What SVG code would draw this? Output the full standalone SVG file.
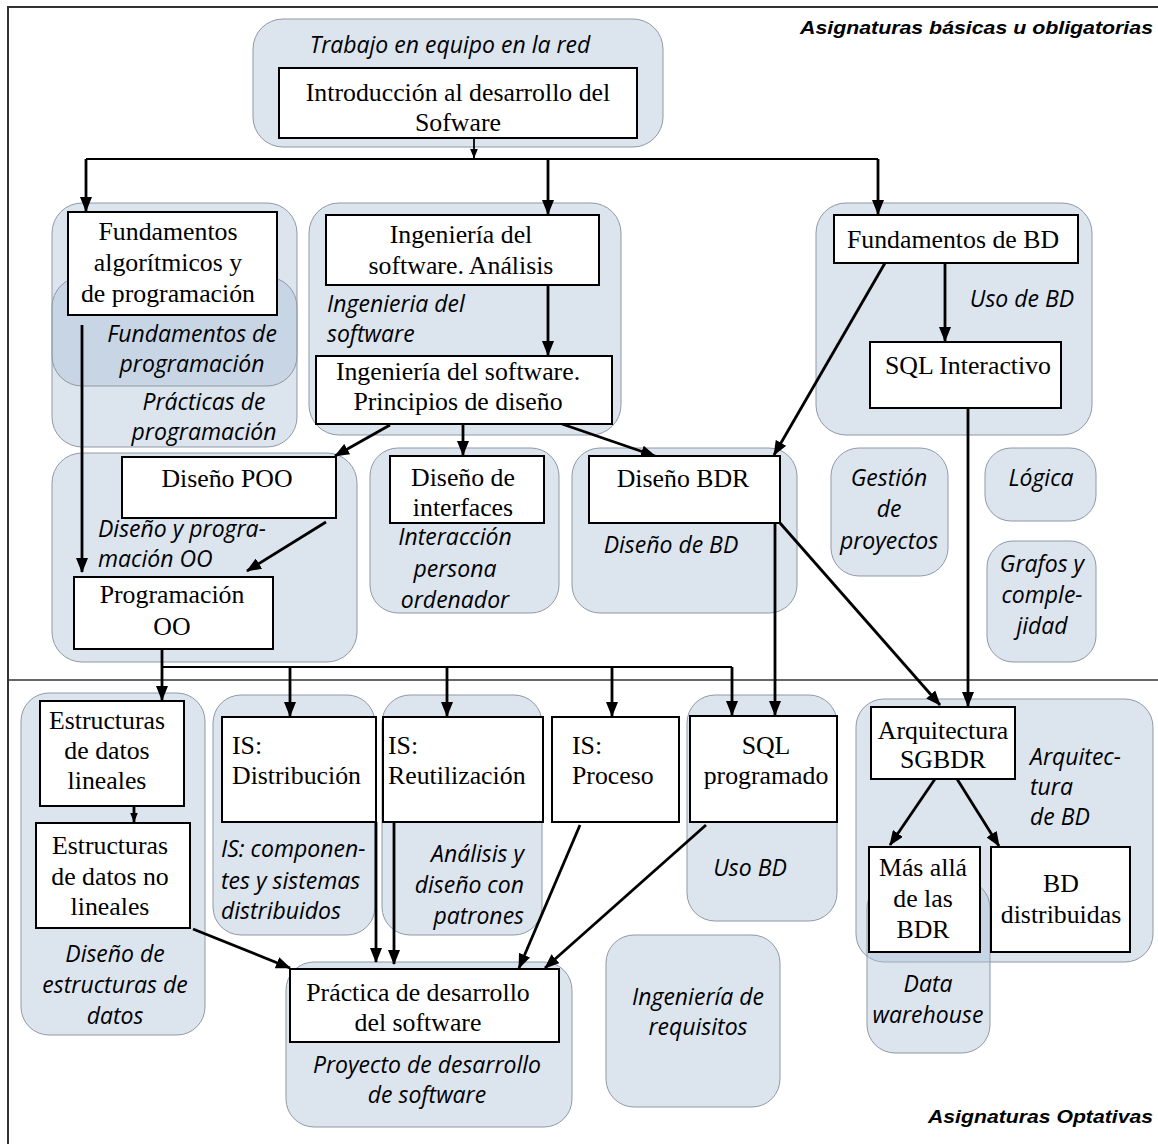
<svg xmlns="http://www.w3.org/2000/svg" width="1158" height="1144" viewBox="0 0 1158 1144">
<style>
.g{fill:#aec0d7;fill-opacity:.43;stroke:#8f99a5;stroke-width:1}
.b{fill:#fff;stroke:#000;stroke-width:2}
.t{font-family:"Liberation Serif","Times New Roman",serif;font-size:25.8px;text-anchor:middle;fill:#000}
.i{font-family:"Open Sans","Noto Sans",sans-serif;font-style:italic;font-size:23px;fill:#000;text-anchor:middle}
.h{font-family:"Liberation Sans",Arial,sans-serif;font-weight:bold;font-style:italic;font-size:19px;text-anchor:end;fill:#000}
.l{text-anchor:start}
.r{text-anchor:end}
.c{fill:none;stroke:#000;stroke-width:2.8}
.bus{fill:none;stroke:#000;stroke-width:1.8}
</style>
<defs>
<marker id="ah" viewBox="0 0 15 12" refX="14" refY="6" markerWidth="15" markerHeight="12" markerUnits="userSpaceOnUse" orient="auto">
<path d="M0,0 L15,6 L0,12 z" fill="#000"/>
</marker>
<marker id="as" viewBox="0 0 10 8" refX="9.5" refY="4" markerWidth="10" markerHeight="8" markerUnits="userSpaceOnUse" orient="auto">
<path d="M0,0 L10,4 L0,8 z" fill="#000"/>
</marker>
</defs>
<rect width="1158" height="1144" fill="#fff"/>
<g id="frame">
<rect x="8" y="7" width="1170" height="1160" fill="none" stroke="#333" stroke-width="2"/>
<line x1="8" y1="680" x2="1158" y2="680" stroke="#333" stroke-width="1.6"/>
<text class="h" x="1153" y="34" textLength="353" lengthAdjust="spacingAndGlyphs">Asignaturas básicas u obligatorias</text>
<text class="h" x="1153" y="1123" textLength="225" lengthAdjust="spacingAndGlyphs">Asignaturas Optativas</text>
</g>
<g id="areas">
<g id="area-trabajo"><rect class="g" x="253" y="19" width="410" height="128" rx="30"/><text class="i" x="450" y="53">Trabajo en equipo en la red</text></g>
<g id="area-practicas"><rect class="g" x="52" y="203" width="245" height="244" rx="30"/><text class="i" x="204" y="410">Prácticas de</text><text class="i" x="204" y="440">programación</text></g>
<g id="area-fundprog"><rect class="g" x="52" y="277" width="245" height="109" rx="30"/><text class="i" x="192" y="342">Fundamentos de</text><text class="i" x="192" y="372">programación</text></g>
<g id="area-ingsw"><rect class="g" x="309" y="203" width="312" height="232" rx="30"/><text class="i l" x="327" y="312">Ingenieria del</text><text class="i l" x="327" y="342">software</text></g>
<g id="area-usobd"><rect class="g" x="816" y="203" width="276" height="232" rx="30"/><text class="i" x="1022" y="307">Uso de BD</text></g>
<g id="area-dypoo"><rect class="g" x="52" y="453" width="305" height="209" rx="30"/><text class="i l" x="98" y="537">Diseño y progra-</text><text class="i l" x="98" y="567">mación OO</text></g>
<g id="area-ipo"><rect class="g" x="370" y="448" width="189" height="165" rx="28"/><text class="i" x="455" y="545">Interacción</text><text class="i" x="455" y="577">persona</text><text class="i" x="455" y="608">ordenador</text></g>
<g id="area-disbd"><rect class="g" x="572" y="448" width="225" height="165" rx="28"/><text class="i" x="671" y="553">Diseño de BD</text></g>
<g id="area-gestion"><rect class="g" x="831" y="448" width="117" height="128" rx="28"/><text class="i" x="889" y="486">Gestión</text><text class="i" x="889" y="517">de</text><text class="i" x="889" y="549">proyectos</text></g>
<g id="area-logica"><rect class="g" x="985" y="448" width="111" height="73" rx="26"/><text class="i" x="1041" y="486">Lógica</text></g>
<g id="area-grafos"><rect class="g" x="987" y="541" width="109" height="121" rx="26"/><text class="i" x="1042" y="572">Grafos y</text><text class="i" x="1042" y="603">comple-</text><text class="i" x="1042" y="634">jidad</text></g>
<g id="area-estructuras"><rect class="g" x="21" y="693" width="184" height="342" rx="28"/><text class="i" x="115" y="962">Diseño de</text><text class="i" x="115" y="993">estructuras de</text><text class="i" x="115" y="1024">datos</text></g>
<g id="area-iscomp"><rect class="g" x="213" y="695" width="162" height="240" rx="28"/><text class="i l" x="221" y="857">IS: componen-</text><text class="i l" x="221" y="889">tes y sistemas</text><text class="i l" x="221" y="919">distribuidos</text></g>
<g id="area-patrones"><rect class="g" x="382" y="695" width="160" height="240" rx="28"/><text class="i r" x="524" y="862">Análisis y</text><text class="i r" x="524" y="893">diseño con</text><text class="i r" x="524" y="924">patrones</text></g>
<g id="area-usobd2"><rect class="g" x="687" y="695" width="150" height="226" rx="28"/><text class="i" x="750" y="876">Uso BD</text></g>
<g id="area-proyecto"><rect class="g" x="286" y="962" width="286" height="165" rx="28"/><text class="i" x="427" y="1073">Proyecto de desarrollo</text><text class="i" x="427" y="1103">de software</text></g>
<g id="area-requisitos"><rect class="g" x="606" y="935" width="174" height="172" rx="28"/><text class="i" x="698" y="1005">Ingeniería de</text><text class="i" x="698" y="1035">requisitos</text></g>
<g id="area-arqbd"><rect class="g" x="856" y="699" width="297" height="263" rx="28"/><text class="i l" x="1030" y="765">Arquitec-</text><text class="i l" x="1030" y="795">tura</text><text class="i l" x="1030" y="825">de BD</text></g>
<g id="area-dw"><rect class="g" x="867" y="880" width="123" height="173" rx="28"/><text class="i" x="928" y="992">Data</text><text class="i" x="928" y="1023">warehouse</text></g>
</g>
<g id="connectors">
<path class="bus" d="M474,138 V158" marker-end="url(#as)"/>
<path class="bus" d="M86,159 H878"/>
<path class="c" d="M86,159 V211" marker-end="url(#ah)"/>
<path class="c" d="M548,159 V214" marker-end="url(#ah)"/>
<path class="c" d="M878,159 V214" marker-end="url(#ah)"/>
<path class="c" d="M548,285 V355" marker-end="url(#ah)"/>
<path class="c" d="M82,325 V572" marker-end="url(#ah)"/>
<path class="c" d="M390,425 L335,456" marker-end="url(#ah)"/>
<path class="c" d="M463,424 V455" marker-end="url(#ah)"/>
<path class="c" d="M562,424 L655,456" marker-end="url(#ah)"/>
<path class="c" d="M326,522 L247,571" marker-end="url(#ah)"/>
<path class="c" d="M945,263 V341" marker-end="url(#ah)"/>
<path class="c" d="M885,263 L774,455" marker-end="url(#ah)"/>
<path class="c" d="M968,408 V706" marker-end="url(#ah)"/>
<path class="c" d="M775,523 V715" marker-end="url(#ah)"/>
<path class="c" d="M780,523 L940,705" marker-end="url(#ah)"/>
<path class="c" d="M162,649 V700" marker-end="url(#ah)"/>
<path class="bus" d="M162,667 H732"/>
<path class="c" d="M732,667 V715" marker-end="url(#ah)"/>
<path class="c" d="M290,667 V716" marker-end="url(#ah)"/>
<path class="c" d="M447,667 V716" marker-end="url(#ah)"/>
<path class="c" d="M612,667 V716" marker-end="url(#ah)"/>
<path class="c" d="M134,806 V822" marker-end="url(#as)"/>
<path class="c" d="M193,929 L290,968" marker-end="url(#ah)"/>
<path class="c" d="M376,822 V962" marker-end="url(#ah)"/>
<path class="c" d="M394,818 V964" marker-end="url(#ah)"/>
<path class="c" d="M580,825 L519,968" marker-end="url(#ah)"/>
<path class="c" d="M706,825 L545,968" marker-end="url(#ah)"/>
<path class="c" d="M935,779 L890,845" marker-end="url(#ah)"/>
<path class="c" d="M957,779 L999,846" marker-end="url(#ah)"/>
</g>
<g id="nodes">
<g id="n-intro"><rect class="b" x="279" y="68" width="358" height="70"/><text class="t" x="458" y="101">Introducción al desarrollo del</text><text class="t" x="458" y="131">Sofware</text></g>
<g id="n-fundalg"><rect class="b" x="68" y="212" width="209" height="103"/><text class="t" x="168" y="240">Fundamentos</text><text class="t" x="168" y="271">algorítmicos y</text><text class="t" x="168" y="302">de programación</text></g>
<g id="n-isanalisis"><rect class="b" x="326" y="215" width="273" height="70"/><text class="t" x="461" y="243">Ingeniería del</text><text class="t" x="461" y="274">software. Análisis</text></g>
<g id="n-isprincipios"><rect class="b" x="316" y="356" width="296" height="68"/><text class="t" x="458" y="380">Ingeniería del software.</text><text class="t" x="458" y="410">Principios de diseño</text></g>
<g id="n-fundbd"><rect class="b" x="834" y="215" width="244" height="48"/><text class="t" x="953" y="248">Fundamentos de BD</text></g>
<g id="n-sqlint"><rect class="b" x="870" y="342" width="191" height="66"/><text class="t" x="968" y="374">SQL Interactivo</text></g>
<g id="n-dispoo"><rect class="b" x="122" y="457" width="214" height="61"/><text class="t" x="227" y="487">Diseño POO</text></g>
<g id="n-progoo"><rect class="b" x="74" y="577" width="199" height="72"/><text class="t" x="172" y="603">Programación</text><text class="t" x="172" y="635">OO</text></g>
<g id="n-disint"><rect class="b" x="390" y="456" width="154" height="67"/><text class="t" x="463" y="486">Diseño de</text><text class="t" x="463" y="516">interfaces</text></g>
<g id="n-disbdr"><rect class="b" x="589" y="456" width="191" height="67"/><text class="t" x="683" y="487">Diseño BDR</text></g>
<g id="n-estlin"><rect class="b" x="40" y="701" width="144" height="105"/><text class="t" x="107" y="729">Estructuras</text><text class="t" x="107" y="759">de datos</text><text class="t" x="107" y="789">lineales</text></g>
<g id="n-estnolin"><rect class="b" x="36" y="823" width="154" height="105"/><text class="t" x="110" y="854">Estructuras</text><text class="t" x="110" y="885">de datos no</text><text class="t" x="110" y="915">lineales</text></g>
<g id="n-isdist"><rect class="b" x="222" y="717" width="154" height="105"/><text class="t l" x="232" y="754">IS:</text><text class="t l" x="232" y="784">Distribución</text></g>
<g id="n-isreut"><rect class="b" x="383" y="717" width="160" height="105"/><text class="t l" x="388" y="754">IS:</text><text class="t l" x="388" y="784">Reutilización</text></g>
<g id="n-isproc"><rect class="b" x="552" y="717" width="127" height="105"/><text class="t l" x="572" y="754">IS:</text><text class="t l" x="572" y="784">Proceso</text></g>
<g id="n-sqlprog"><rect class="b" x="690" y="716" width="147" height="106"/><text class="t" x="766" y="754">SQL</text><text class="t" x="766" y="784">programado</text></g>
<g id="n-practica"><rect class="b" x="290" y="969" width="269" height="73"/><text class="t" x="418" y="1001">Práctica de desarrollo</text><text class="t" x="418" y="1031">del software</text></g>
<g id="n-arqsgbdr"><rect class="b" x="871" y="707" width="144" height="72"/><text class="t" x="943" y="739">Arquitectura</text><text class="t" x="943" y="768">SGBDR</text></g>
<g id="n-masalla"><rect class="b" x="869" y="847" width="111" height="105"/><text class="t" x="923" y="876">Más allá</text><text class="t" x="923" y="907">de las</text><text class="t" x="923" y="938">BDR</text></g>
<g id="n-bddist"><rect class="b" x="991" y="847" width="139" height="105"/><text class="t" x="1061" y="892">BD</text><text class="t" x="1061" y="923">distribuidas</text></g>
</g>
</svg>
